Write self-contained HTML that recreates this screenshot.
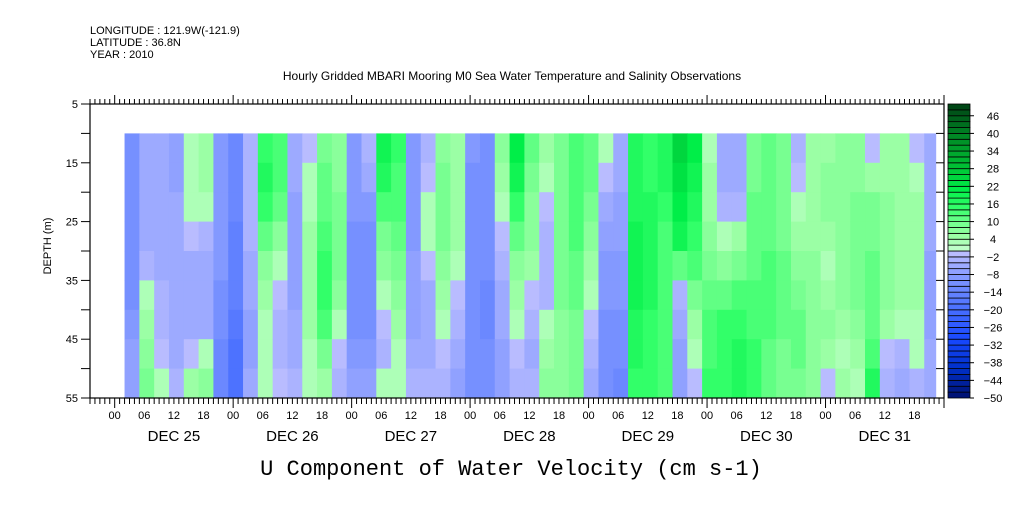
<!DOCTYPE html>
<html><head><meta charset="utf-8"><style>
body{margin:0;background:#fff;}
svg text{font-family:"Liberation Sans",sans-serif;fill:#000;}
</style></head><body>
<svg id="c" width="1009" height="504" xmlns="http://www.w3.org/2000/svg">
<text x="90" y="34" font-size="11">LONGITUDE : 121.9W(-121.9)</text>
<text x="90" y="46" font-size="11">LATITUDE : 36.8N</text>
<text x="90" y="58" font-size="11">YEAR : 2010</text>
<text x="512" y="80" font-size="12" text-anchor="middle">Hourly Gridded MBARI Mooring M0 Sea Water Temperature and Salinity Observations</text>
<g id="cells"></g>
<g id="axes"></g>
<g id="cbar"></g>
<text x="61" y="256" font-size="11" text-anchor="middle" transform="rotate(-90 51 256)">DEPTH (m)</text>
<text x="511" y="475" font-size="22" text-anchor="middle" style="font-family:'Liberation Mono',monospace">U Component of Water Velocity (cm s-1)</text>
</svg>
<script>
// depth rows (m, cell centers 12.5..52.5), time columns start at hour 2 of Dec 25, 3-hour steps
const depths=[12.5,17.5,22.5,27.5,32.5,37.5,42.5,47.5,52.5];
const colStartHour=2, colStep=3;
const u=[
[-12,-12,-12,-12,-12,-12,-10,-8,-8],[-6,-6,-6,-6,-4,2,4,6,8],[-6,-6,-6,-6,-6,-4,-4,-2,2],[-8,-8,-6,-6,-6,-6,-6,-6,-4],
[2,2,2,-2,-6,-6,-6,-2,4],[4,4,2,-4,-6,-6,-6,2,6],[-10,-10,-10,-10,-10,-12,-12,-14,-14],[-14,-14,-14,-16,-16,-16,-18,-20,-20],
[-4,-4,-4,-4,-6,-6,-8,-8,-6],[14,16,14,10,6,4,2,2,2],[12,12,10,6,2,-2,-4,-4,-2],[-6,-6,-8,-8,-8,-8,-6,-6,-4],
[-2,2,2,4,4,4,4,2,2],[8,10,10,12,14,14,12,8,4],[6,6,8,8,8,6,2,-2,-4],[-10,-10,-10,-12,-12,-12,-12,-10,-8],
[-4,-6,-10,-12,-12,-12,-12,-10,-8],[18,16,12,8,6,2,-2,-4,2],[14,12,12,10,8,6,4,2,2],[-10,-10,-10,-10,-8,-8,-8,-6,-4],
[-4,-2,2,2,-2,-6,-6,-6,-4],[6,8,8,8,6,4,2,-2,-4],[4,4,4,4,2,-2,-4,-6,-8],[-10,-12,-12,-12,-12,-12,-12,-12,-12],
[-12,-12,-12,-12,-12,-14,-14,-12,-12],[6,4,2,-2,-4,-6,-6,-8,-8],[20,18,14,10,6,4,2,-2,-4],[10,8,6,6,4,-2,-4,-6,-4],
[4,2,-2,-4,-4,-4,2,4,6],[8,8,8,8,8,8,6,6,6],[12,12,12,12,10,10,8,8,8],[10,10,8,6,4,2,-2,-4,-6],
[2,-2,-6,-8,-10,-10,-12,-12,-12],[-6,-6,-8,-8,-10,-10,-12,-12,-14],[16,16,16,18,18,18,16,16,14],[14,14,16,16,16,16,14,14,14],
[16,16,14,12,12,12,12,12,12],[24,22,20,18,10,-4,-6,-8,-8],[20,18,16,14,12,8,4,2,-2],[2,4,4,6,8,10,12,12,14],
[-6,-6,-4,2,6,10,14,14,14],[-6,-6,-4,4,8,12,14,16,16],[8,8,10,10,10,12,12,14,14],[10,10,10,10,12,12,12,10,10],
[8,8,8,8,10,10,10,8,8],[-4,-2,2,4,6,8,10,10,8],[4,4,4,4,6,6,6,6,6],[4,6,6,4,2,4,6,4,-2],
[6,6,6,6,6,6,4,2,4],[6,6,8,8,8,8,6,4,2],[-2,4,8,8,10,10,10,12,16],[4,4,6,6,6,6,4,-2,-4],
[4,4,4,4,4,4,2,-4,-6],[-2,2,4,4,4,4,2,2,-4],[-6,-6,-6,-6,-8,-8,-8,-6,-6]
];
const cbarLabels=[46,40,34,28,22,16,10,4,-2,-8,-14,-20,-26,-32,-38,-44,-50];
const yTicks=[5,15,25,35,45,55];
const days=["DEC 25","DEC 26","DEC 27","DEC 28","DEC 29","DEC 30","DEC 31"];
const hourLabels=["00","06","12","18"];

const NS="http://www.w3.org/2000/svg";
const X0=90,X1=944,Y0=104,Y1=398;
const H0=-5, H1=168; // hours rel. Dec25 00
const xs=h=>X0+(h-H0)/(H1-H0)*(X1-X0);
const ys=d=>Y0+(d-5)/50*(Y1-Y0);
function mk(tag,attrs,parent){const e=document.createElementNS(NS,tag);for(const k in attrs)e.setAttribute(k,attrs[k]);parent.appendChild(e);return e;}
const stops=[[-50,[0,16,110]],[-40,[0,48,200]],[-30,[24,72,255]],[-20,[72,110,255]],[-12,[112,140,255]],[-6,[150,165,255]],[-1,[185,188,255]],
[1,[190,255,200]],[5,[155,255,165]],[9,[120,255,145]],[15,[50,255,105]],[21,[0,238,72]],[30,[0,185,50]],[40,[0,130,35]],[50,[0,64,20]]];
function col(v){const b=Math.floor(v/2)*2+1;let c;if(b<=stops[0][0])c=stops[0][1];else if(b>=stops[stops.length-1][0])c=stops[stops.length-1][1];
else{for(let i=0;i<stops.length-1;i++){if(b>=stops[i][0]&&b<=stops[i+1][0]){const t=(b-stops[i][0])/(stops[i+1][0]-stops[i][0]);c=stops[i][1].map((a,k)=>Math.round(a+(stops[i+1][1][k]-a)*t));break;}}}
return `rgb(${c[0]},${c[1]},${c[2]})`;}
const cells=document.getElementById('cells');
u.forEach((column,j)=>{
  const h0=colStartHour+j*colStep; let h1=h0+colStep; if(h1>166.3)h1=166.3;
  column.forEach((v,i)=>{
    const d0=depths[i]-2.5,d1=depths[i]+2.5;
    const r=mk('rect',{x:xs(h0).toFixed(2),y:ys(d0).toFixed(2),width:(xs(h1)-xs(h0)+0.6).toFixed(2),height:(ys(d1)-ys(d0)+0.6).toFixed(2),fill:col(v)},cells);
    
    
  });
});
const ax=document.getElementById('axes');
const frame=mk('rect',{x:X0,y:Y0,width:X1-X0,height:Y1-Y0,fill:'none',stroke:'#000','stroke-width':1.2},ax);


for(let d=5;d<=55;d+=5){
  mk('line',{x1:X0-9,x2:X0,y1:ys(d),y2:ys(d),stroke:'#000'},ax);
  mk('line',{x1:X1-8,x2:X1,y1:ys(d),y2:ys(d),stroke:'#000'},ax);
}
yTicks.forEach(d=>{const t=mk('text',{x:X0-12,y:ys(d)+4,'font-size':11,'text-anchor':'end'},ax);t.textContent=d;
  
  });
for(let h=H0;h<=H1;h++){
  const x=xs(h), major=(h%24===0);
  mk('line',{x1:x,x2:x,y1:Y1,y2:Y1+(major?10:6),stroke:'#000'},ax);
  mk('line',{x1:x,x2:x,y1:Y0,y2:Y0-(major?9:5),stroke:'#000'},ax);
  if(h>=0&&h<H1&&h%6===0){const t=mk('text',{x:x,y:419,'font-size':11,'text-anchor':'middle'},ax);t.textContent=hourLabels[(h/6)%4];
    
    }
}
days.forEach((dl,i)=>{const t=mk('text',{x:xs(i*24+12),y:441,'font-size':15,'text-anchor':'middle'},ax);t.textContent=dl;
  
  });
const cb=document.getElementById('cbar');
for(let v=-50;v<50;v+=2){
  const y=Y0+(50-v-2)/100*(Y1-Y0);
  const r=mk('rect',{x:948,y:y,width:22,height:(Y1-Y0)/50,fill:col(v+1),stroke:'#000','stroke-width':0.8},cb);
  
  
}
cbarLabels.forEach(v=>{const y=Y0+(50-v)/100*(Y1-Y0);
  mk('line',{x1:970,x2:974,y1:y,y2:y,stroke:'#000'},cb);
  const t=mk('text',{x:993,y:y+4,'font-size':11,'text-anchor':'middle'},cb);t.textContent=v<0?'\u2212'+(-v):v;
  
  });
</script>
</body></html>
